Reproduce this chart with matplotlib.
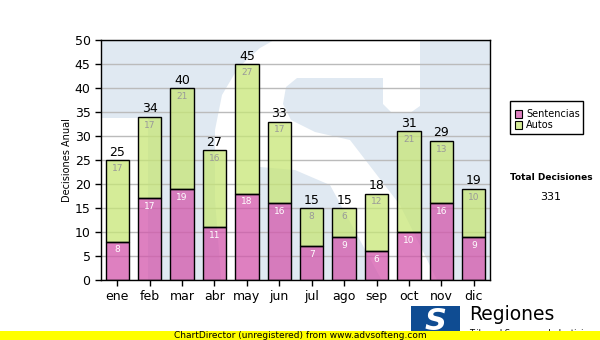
import matplotlib
matplotlib.use("Agg")
import matplotlib.pyplot as plt
from matplotlib.patches import Polygon, Rectangle
import numpy as np

meses = ["ene", "feb", "mar", "abr", "may", "jun", "jul", "ago", "sep", "oct", "nov", "dic"]
sentencias = [8, 17, 19, 11, 18, 16, 7, 9, 6, 10, 16, 9]
autos = [17, 17, 21, 16, 27, 17, 8, 6, 12, 21, 13, 10]
yticks = list(range(0, 55, 5))

pink = "#D356AB"
green = "#C7E676"
W, H = 600, 340
AX_L, AX_R, AX_T, AX_B = 101, 490, 40, 280

fig = plt.figure(figsize=(6, 3.4), dpi=100)

def fx(px):
    return px / W

def fy(py):
    return 1 - py / H

def axpt(px, py):
    # pixel position -> axes fraction (only for the background watermark)
    return ((px - AX_L) / (AX_R - AX_L), (AX_B - py) / (AX_B - AX_T))

ax = fig.add_axes([fx(AX_L), fy(AX_B), fx(AX_R) - fx(AX_L), fy(AX_T) - fy(AX_B)])
ax.set_facecolor("#E0E9F2")

# watermark: white "S" cut out of the light blue logo
s_shape = [(222, 290), (215, 200), (215, 130), (222, 95), (238, 68), (260, 48), (285, 34),
           (420, 34), (420, 106), (410, 113), (392, 113), (383, 104), (383, 78), (297, 78),
           (286, 87), (283, 104), (291, 120), (315, 132), (350, 140), (400, 205), (442, 290),
           (387, 290), (330, 185), (295, 170), (260, 167), (258, 290)]
left_cut = [(95, 118), (148, 118), (148, 290), (95, 290)]
for shp in (s_shape, left_cut):
    ax.add_patch(Polygon([axpt(*p) for p in shp], closed=True, transform=ax.transAxes,
                         facecolor="white", edgecolor="none", zorder=0.1))

x = np.arange(len(meses))
tot = [s + a for s, a in zip(sentencias, autos)]
ax.bar(x, sentencias, width=0.72, color=pink, alpha=0.75, edgecolor="none", zorder=3)
ax.bar(x, autos, bottom=sentencias, width=0.72, color=green, alpha=0.75, edgecolor="none", zorder=3)
ax.bar(x, sentencias, width=0.72, fill=False, edgecolor="black", linewidth=1, zorder=3.5)
ax.bar(x, autos, bottom=sentencias, width=0.72, fill=False, edgecolor="black", linewidth=1, zorder=3.5)

for i in range(len(meses)):
    ax.text(x[i], sentencias[i] - 0.8, str(sentencias[i]), ha="center", va="top",
            color="white", fontsize=6.5, zorder=4)
    ax.text(x[i], tot[i] - 0.8, str(autos[i]), ha="center", va="top",
            color="#999999", fontsize=6.5, zorder=4)
    ax.text(x[i], tot[i] + 0.3, str(tot[i]), ha="center", va="bottom",
            color="black", fontsize=9, zorder=4)

ax.set_xlim(-0.5, len(meses) - 0.5)
ax.set_ylim(0, 50)
ax.set_yticks(yticks)
ax.set_xticks(x)
ax.set_xticklabels(meses)
ax.tick_params(axis="both", labelsize=9, length=4, width=1, direction="out")
ax.yaxis.grid(True, color="#BBBBBB", linewidth=1, zorder=1)
for gl in ax.get_ygridlines():
    gl.set_zorder(1)
for s in ax.spines.values():
    s.set_linewidth(1)
    s.set_zorder(5)
ax.set_ylabel("Decisiones Anual", fontsize=7)
ax.yaxis.set_label_coords(-0.075, 0.5)

# legend box
fig.patches.append(Rectangle((fx(510), fy(134)), fx(583) - fx(510), fy(101) - fy(134),
                             transform=fig.transFigure, facecolor="white", edgecolor="black", linewidth=1))
for k, (lab, c) in enumerate([("Sentencias", "#DE80C0"), ("Autos", "#D5EC98")]):
    yy = 114 + k * 11
    fig.patches.append(Rectangle((fx(515), fy(yy + 3.5)), fx(7), 7 / H, transform=fig.transFigure,
                                 facecolor=c, edgecolor="black", linewidth=0.8))
    fig.text(fx(526), fy(yy), lab, fontsize=7, va="center", ha="left")

fig.text(fx(551), fy(178), "Total Decisiones", fontsize=6.5, fontweight="bold", ha="center", va="center")
fig.text(fx(551), fy(197), "331", fontsize=8, ha="center", va="center")

# logo at bottom
fig.patches.append(Rectangle((fx(411), fy(340)), fx(49), 34 / H, transform=fig.transFigure,
                             facecolor="#0F4C92", edgecolor="none"))
fig.text(fx(436), fy(322), "S", fontsize=22, fontweight="bold", color="white",
         ha="center", va="center", style="italic")
fig.text(fx(469), fy(315), "Regiones", fontsize=13.5, ha="left", va="center")
fig.text(fx(469), fy(333), "Tribunal Supremo de Justicia", fontsize=6, ha="left", va="center")

# yellow bar
fig.patches.append(Rectangle((0, 0), 1, 9 / H, transform=fig.transFigure,
                             facecolor="#FFFF00", edgecolor="none", zorder=5))
fig.text(fx(300), fy(335.5), "ChartDirector (unregistered) from www.advsofteng.com", fontsize=6.5,
         family=["Liberation Sans Narrow", "DejaVu Sans"], ha="center", va="center", zorder=6)

fig.savefig("out.png", dpi=100)
